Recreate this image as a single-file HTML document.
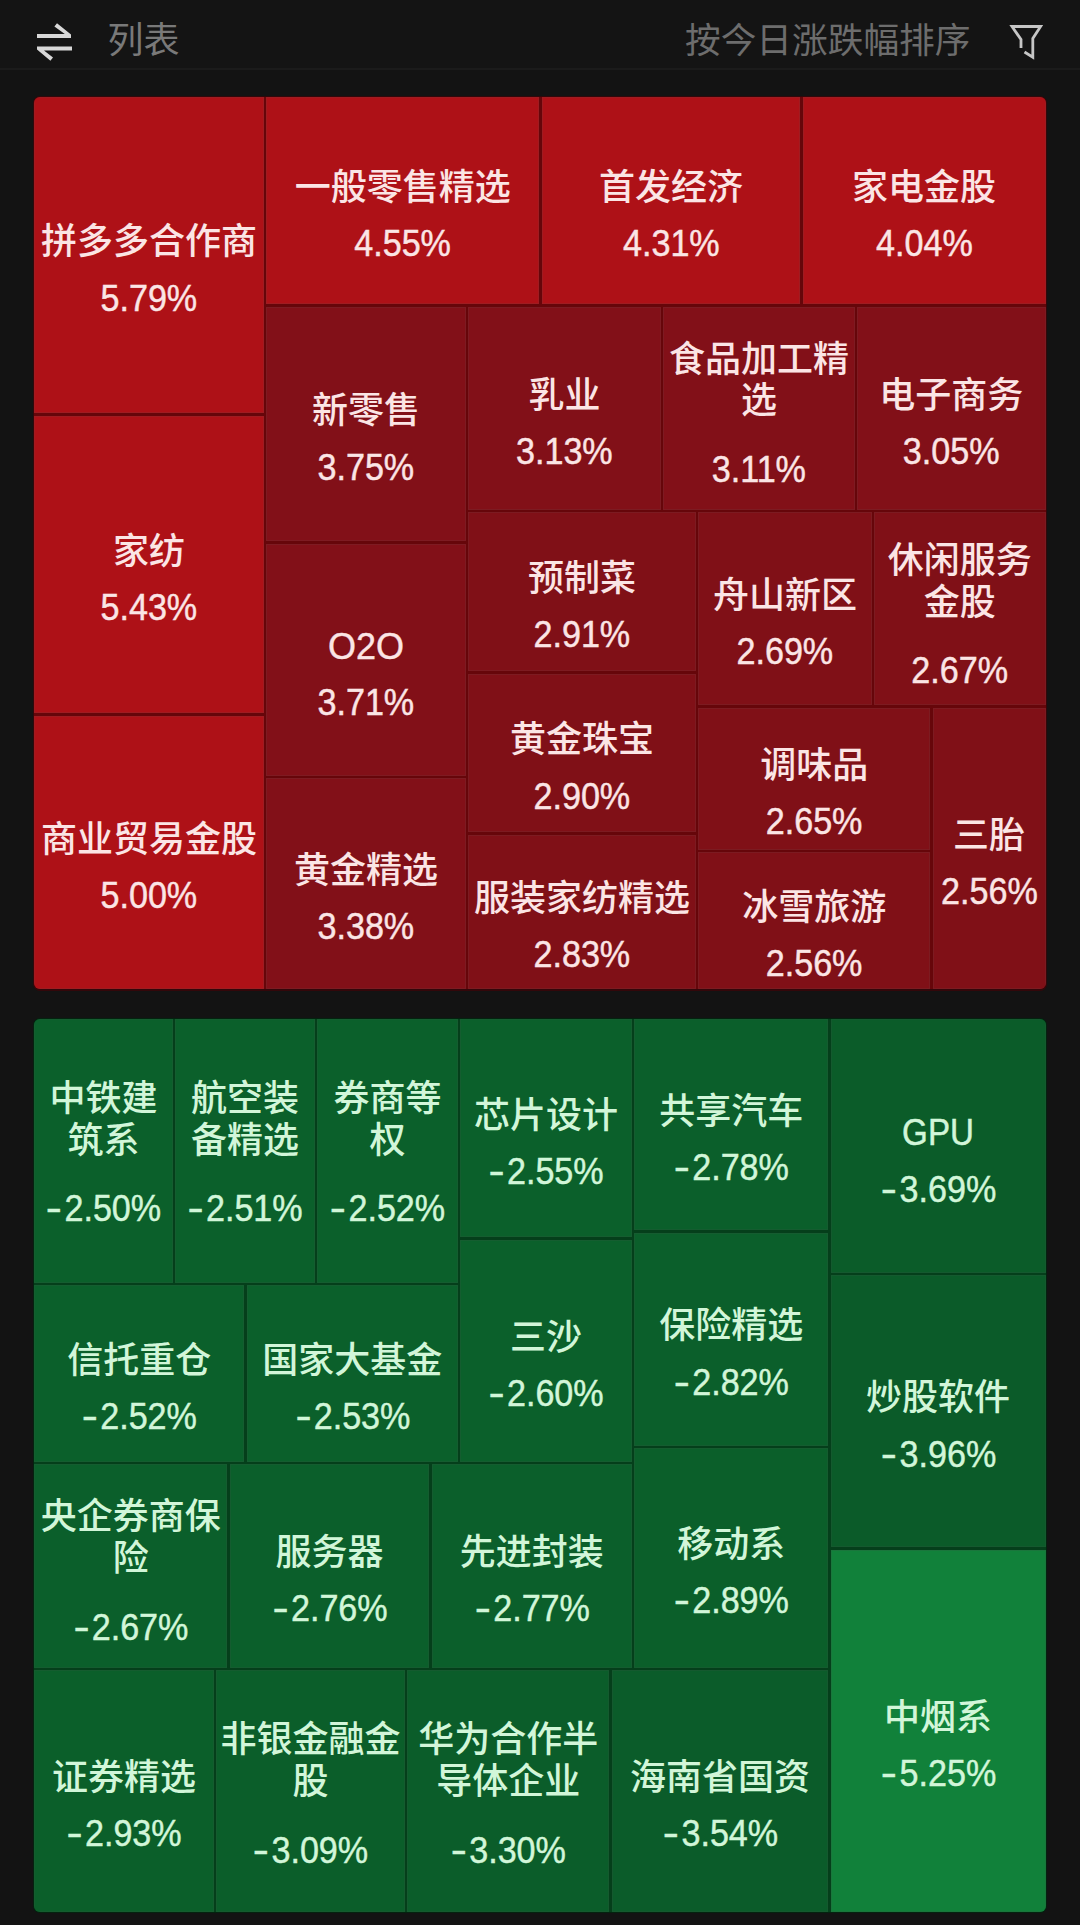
<!DOCTYPE html>
<html lang="zh-CN"><head><meta charset="utf-8"><title>板块热力图</title>
<style>
html,body{margin:0;padding:0;}
body{width:1080px;height:1925px;background:#131313;position:relative;overflow:hidden;
font-family:"Liberation Sans","Noto Sans CJK SC",sans-serif;}
.hdr{position:absolute;left:0;top:0;width:1080px;height:68px;background:#141414;border-bottom:2px solid #1b1b1b;}
.hdr .hl{position:absolute;left:107.5px;top:16px;font-size:36px;line-height:50px;color:#797979;}
.hdr .hr{position:absolute;right:109.5px;top:16px;font-size:35.7px;line-height:50px;color:#6d6d6d;white-space:nowrap;}
.hdr svg{position:absolute;left:0;top:0;}
.box{position:absolute;border-radius:7px;overflow:hidden;}
.in{position:absolute;border-radius:6px;overflow:hidden;}
.t{position:absolute;overflow:hidden;}
.r .t{box-shadow:inset 0 0 0 1px rgba(110,70,75,.22);}
.g .t{box-shadow:inset 0 0 0 1px rgba(60,80,70,.22);}
.n,.p{position:absolute;left:-60px;right:-60px;text-align:center;white-space:nowrap;line-height:43px;}
.n{font-size:36px;font-weight:500;line-height:41.7px;}
.p{font-size:36px;height:43px;transform:scaleX(0.948);-webkit-text-stroke:0.45px currentColor;}
.m{display:inline-block;transform:translateY(-1.5px) scale(1.42,1);margin:0 5px 0 3px;}
.r .n,.r .p{color:#fbe5e5;}
.g .n,.g .p{color:#d2f6d9;}
</style></head><body>
<div class="hdr">
<svg width="1080" height="68" viewBox="0 0 1080 68">
<path fill="#d8d8d8" d="M37 34 H64.8 L54.4 26.4 L57 23.2 L71 34.6 V38 H37 Z"/>
<path fill="#d8d8d8" d="M72 50.5 H44 L53 57.6 L50.4 60.8 L37 49.4 V46.5 H72 Z"/>
<path fill="none" stroke="#c6c6c6" stroke-width="2.8" d="M1021 48 V39.5 L1012 26.5 H1040.6 L1032.8 38.5 V57.2 L1024.5 52"/>
</svg>
<div class="hl">列表</div>
<div class="hr">按今日涨跌幅排序</div>
</div>
<div class="box r" style="left:32.5px;top:95.7px;width:1014.80px;height:895.10px;background:#33070a"><div class="in" style="left:1.70px;top:1.70px;width:1011.40px;height:891.70px;background:#66060a">
<div class="t" style="left:0.00px;top:0.00px;width:229.65px;height:315.95px;background:#ae1117"><div class="n" style="top:124.1px">拼多多合作商</div><div class="p" style="top:179.5px">5.79%</div></div>
<div class="t" style="left:0.00px;top:318.25px;width:229.65px;height:297.70px;background:#ae1117"><div class="n" style="top:115.0px">家纺</div><div class="p" style="top:170.4px">5.43%</div></div>
<div class="t" style="left:0.00px;top:618.25px;width:229.65px;height:273.45px;background:#ae1117"><div class="n" style="top:102.9px">商业贸易金股</div><div class="p" style="top:158.2px">5.00%</div></div>
<div class="t" style="left:231.95px;top:0.00px;width:273.20px;height:206.95px;background:#ae1117"><div class="n" style="top:69.6px">一般零售精选</div><div class="p" style="top:125.0px">4.55%</div></div>
<div class="t" style="left:507.45px;top:0.00px;width:258.70px;height:206.95px;background:#ae1117"><div class="n" style="top:69.6px">首发经济</div><div class="p" style="top:125.0px">4.31%</div></div>
<div class="t" style="left:768.45px;top:0.00px;width:242.95px;height:206.95px;background:#ae1117"><div class="n" style="top:69.6px">家电金股</div><div class="p" style="top:125.0px">4.04%</div></div>
<div class="t" style="left:231.95px;top:209.25px;width:199.70px;height:234.70px;background:#821018"><div class="n" style="top:83.5px">新零售</div><div class="p" style="top:138.9px">3.75%</div></div>
<div class="t" style="left:231.95px;top:446.25px;width:199.70px;height:232.20px;background:#821018"><div class="n" style="top:82.2px"><span style="-webkit-text-stroke:0.4px currentColor">O2O</span></div><div class="p" style="top:137.6px">3.71%</div></div>
<div class="t" style="left:231.95px;top:680.75px;width:199.70px;height:210.95px;background:#821018"><div class="n" style="top:71.6px">黄金精选</div><div class="p" style="top:127.0px">3.38%</div></div>
<div class="t" style="left:433.95px;top:209.25px;width:192.70px;height:203.40px;background:#821018"><div class="n" style="top:67.9px">乳业</div><div class="p" style="top:123.2px">3.13%</div></div>
<div class="t" style="left:628.95px;top:209.25px;width:191.70px;height:203.40px;background:#821018"><div class="n" style="top:32.1px">食品加工精<br>选</div><div class="p" style="top:141.5px">3.11%</div></div>
<div class="t" style="left:822.95px;top:209.25px;width:188.45px;height:203.40px;background:#821018"><div class="n" style="top:67.9px">电子商务</div><div class="p" style="top:123.2px">3.05%</div></div>
<div class="t" style="left:433.95px;top:414.95px;width:227.70px;height:159.00px;background:#801017"><div class="n" style="top:45.6px">预制菜</div><div class="p" style="top:101.0px">2.91%</div></div>
<div class="t" style="left:433.95px;top:576.25px;width:227.70px;height:158.70px;background:#801017"><div class="n" style="top:45.5px">黄金珠宝</div><div class="p" style="top:100.9px">2.90%</div></div>
<div class="t" style="left:433.95px;top:737.25px;width:227.70px;height:154.45px;background:#801017"><div class="n" style="top:43.4px">服装家纺精选</div><div class="p" style="top:98.7px">2.83%</div></div>
<div class="t" style="left:663.95px;top:414.95px;width:173.70px;height:193.00px;background:#801017"><div class="n" style="top:62.6px">舟山新区</div><div class="p" style="top:118.0px">2.69%</div></div>
<div class="t" style="left:839.95px;top:414.95px;width:171.45px;height:193.00px;background:#801017"><div class="n" style="top:27.5px">休闲服务<br>金股</div><div class="p" style="top:136.9px">2.67%</div></div>
<div class="t" style="left:663.95px;top:610.25px;width:232.20px;height:142.20px;background:#801017"><div class="n" style="top:37.2px">调味品</div><div class="p" style="top:92.6px">2.65%</div></div>
<div class="t" style="left:663.95px;top:754.75px;width:232.20px;height:136.95px;background:#801017"><div class="n" style="top:34.6px">冰雪旅游</div><div class="p" style="top:90.0px">2.56%</div></div>
<div class="t" style="left:898.45px;top:610.25px;width:112.95px;height:281.45px;background:#801017"><div class="n" style="top:106.9px">三胎</div><div class="p" style="top:162.2px">2.56%</div></div>
</div></div>
<div class="box g" style="left:32.5px;top:1017.7px;width:1014.80px;height:895.80px;background:#03230f"><div class="in" style="left:1.70px;top:1.75px;width:1011.40px;height:892.35px;background:#053f1b">
<div class="t" style="left:0.00px;top:0.00px;width:138.65px;height:263.40px;background:#0b602b"><div class="n" style="top:58.6px">中铁建<br>筑系</div><div class="p" style="top:168.0px"><span class="m">-</span>2.50%</div></div>
<div class="t" style="left:140.95px;top:0.00px;width:139.70px;height:263.40px;background:#0b602b"><div class="n" style="top:58.6px">航空装<br>备精选</div><div class="p" style="top:168.0px"><span class="m">-</span>2.51%</div></div>
<div class="t" style="left:282.95px;top:0.00px;width:140.70px;height:263.40px;background:#0b602b"><div class="n" style="top:58.6px">券商等<br>权</div><div class="p" style="top:168.0px"><span class="m">-</span>2.52%</div></div>
<div class="t" style="left:425.95px;top:0.00px;width:171.70px;height:217.90px;background:#0b602b"><div class="n" style="top:75.1px">芯片设计</div><div class="p" style="top:130.5px"><span class="m">-</span>2.55%</div></div>
<div class="t" style="left:599.95px;top:0.00px;width:194.20px;height:210.90px;background:#0b5f2b"><div class="n" style="top:71.6px">共享汽车</div><div class="p" style="top:127.0px"><span class="m">-</span>2.78%</div></div>
<div class="t" style="left:796.45px;top:0.00px;width:214.95px;height:253.40px;background:#0b5c29"><div class="n" style="top:92.9px"><span style="display:inline-block;transform:scaleX(0.92);-webkit-text-stroke:0.5px currentColor">GPU</span></div><div class="p" style="top:148.2px"><span class="m">-</span>3.69%</div></div>
<div class="t" style="left:0.00px;top:265.70px;width:210.15px;height:176.70px;background:#0b602b"><div class="n" style="top:54.5px">信托重仓</div><div class="p" style="top:109.8px"><span class="m">-</span>2.52%</div></div>
<div class="t" style="left:212.45px;top:265.70px;width:211.20px;height:176.70px;background:#0b602b"><div class="n" style="top:54.5px">国家大基金</div><div class="p" style="top:109.8px"><span class="m">-</span>2.53%</div></div>
<div class="t" style="left:425.95px;top:220.20px;width:171.70px;height:222.20px;background:#0b602b"><div class="n" style="top:77.2px">三沙</div><div class="p" style="top:132.6px"><span class="m">-</span>2.60%</div></div>
<div class="t" style="left:599.95px;top:213.20px;width:194.20px;height:213.20px;background:#0b5f2b"><div class="n" style="top:72.8px">保险精选</div><div class="p" style="top:128.1px"><span class="m">-</span>2.82%</div></div>
<div class="t" style="left:796.45px;top:255.70px;width:214.95px;height:272.20px;background:#0b5b29"><div class="n" style="top:102.2px">炒股软件</div><div class="p" style="top:157.6px"><span class="m">-</span>3.96%</div></div>
<div class="t" style="left:0.00px;top:444.70px;width:193.15px;height:203.70px;background:#0b5f2b"><div class="n" style="top:32.2px">央企券商保<br>险</div><div class="p" style="top:141.6px"><span class="m">-</span>2.67%</div></div>
<div class="t" style="left:195.45px;top:444.70px;width:199.70px;height:203.70px;background:#0b5f2b"><div class="n" style="top:68.0px">服务器</div><div class="p" style="top:123.3px"><span class="m">-</span>2.76%</div></div>
<div class="t" style="left:397.45px;top:444.70px;width:200.20px;height:203.70px;background:#0b5f2b"><div class="n" style="top:68.0px">先进封装</div><div class="p" style="top:123.3px"><span class="m">-</span>2.77%</div></div>
<div class="t" style="left:599.95px;top:428.70px;width:194.20px;height:219.70px;background:#0b5f2a"><div class="n" style="top:76.0px">移动系</div><div class="p" style="top:131.3px"><span class="m">-</span>2.89%</div></div>
<div class="t" style="left:796.45px;top:530.20px;width:214.95px;height:362.15px;background:#11813a"><div class="n" style="top:147.2px">中烟系</div><div class="p" style="top:202.6px"><span class="m">-</span>5.25%</div></div>
<div class="t" style="left:0.00px;top:650.70px;width:179.65px;height:241.65px;background:#0b5f2a"><div class="n" style="top:87.0px">证券精选</div><div class="p" style="top:142.3px"><span class="m">-</span>2.93%</div></div>
<div class="t" style="left:181.95px;top:650.70px;width:188.70px;height:241.65px;background:#0b5e2a"><div class="n" style="top:49.0px">非银金融金<br>股</div><div class="p" style="top:158.4px"><span class="m">-</span>3.09%</div></div>
<div class="t" style="left:372.95px;top:650.70px;width:202.20px;height:241.65px;background:#0b5d2a"><div class="n" style="top:49.0px">华为合作半<br>导体企业</div><div class="p" style="top:158.4px"><span class="m">-</span>3.30%</div></div>
<div class="t" style="left:577.45px;top:650.70px;width:216.70px;height:241.65px;background:#0b5c2a"><div class="n" style="top:87.0px">海南省国资</div><div class="p" style="top:142.3px"><span class="m">-</span>3.54%</div></div>
</div></div>
</body></html>
